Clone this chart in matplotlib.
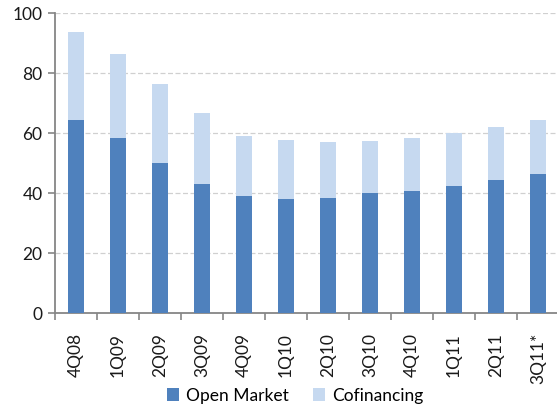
import matplotlib
matplotlib.use("Agg")
import matplotlib.pyplot as plt
import numpy as np
from matplotlib.ticker import FixedLocator

categories = ["4Q08", "1Q09", "2Q09", "3Q09", "4Q09", "1Q10", "2Q10", "3Q10",
              "4Q10", "1Q11", "2Q11", "3Q11*"]
open_market = [64.4, 58.4, 50.3, 43.0, 39.0, 38.3, 38.6, 40.2, 40.9, 42.6, 44.6, 46.6]
totals = [93.8, 86.5, 76.4, 66.7, 59.0, 57.7, 57.0, 57.4, 58.4, 60.0, 62.0, 64.4]
cofinancing = [t - o for t, o in zip(totals, open_market)]
yticks = [0, 20, 40, 60, 80, 100]

plt.rcParams['font.family'] = ['Lato', 'DejaVu Sans']

fig = plt.figure(figsize=(5.57, 4.09), dpi=100)
ax = fig.add_axes([0.0987, 0.2335, 0.905, 0.7335])

x = np.arange(len(categories))
ax.bar(x, open_market, width=0.40, color="#4F81BD", label="Open Market", zorder=3)
ax.bar(x, cofinancing, width=0.40, bottom=open_market, color="#C6D9F0",
       label="Cofinancing", zorder=3)

ax.set_xlim(-0.5, len(categories) - 0.5)
ax.set_ylim(0, 100)
ax.set_yticks(yticks)
ax.yaxis.grid(True, linestyle=(0, (4, 2)), color="#D0D0D0", linewidth=0.9, zorder=0)
ax.set_axisbelow(True)

ax.set_xticks(x)
ax.set_xticklabels(categories, rotation=90, fontsize=12.5, color="#1a1a1a")
ax.tick_params(axis='x', which='major', length=0, pad=14)
ax.xaxis.set_minor_locator(FixedLocator(np.arange(-0.5, len(categories), 1.0)))
ax.tick_params(axis='x', which='minor', length=5, color="#868686", width=1.2)
ax.tick_params(axis='y', length=5, color="#868686", width=1.2, labelsize=12.5,
               labelcolor="#1a1a1a", pad=4)

for s in ["top", "right"]:
    ax.spines[s].set_visible(False)
for s in ["left", "bottom"]:
    ax.spines[s].set_color("#868686")
    ax.spines[s].set_linewidth(1.3)

leg = fig.legend(loc="lower center", bbox_to_anchor=(0.53, -0.025), ncol=2,
                 frameon=False, fontsize=12.5, handlelength=0.7, handleheight=0.7,
                 handletextpad=0.4, columnspacing=1.4)

fig.savefig("out.png", dpi=100)
